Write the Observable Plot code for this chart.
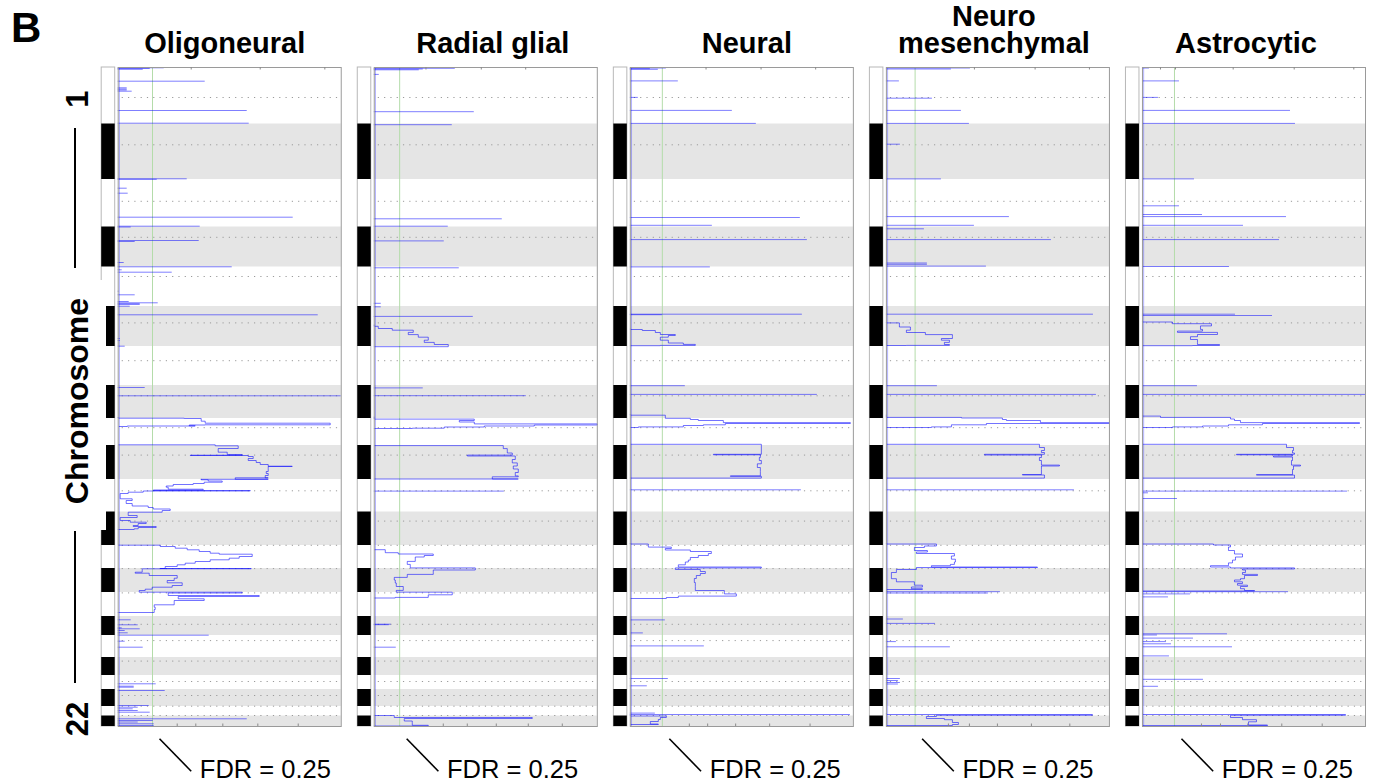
<!DOCTYPE html>
<html><head><meta charset="utf-8">
<script src="https://cdn.jsdelivr.net/npm/d3@7"></script>
<script src="https://cdn.jsdelivr.net/npm/@observablehq/plot@0.6"></script>
<style>
body{margin:0;background:#fff;font-family:"Liberation Sans",Arial,Helvetica,sans-serif;}
#wrap{position:relative;width:1373px;height:784px;overflow:hidden;background:#fff;}
#chart{position:absolute;left:0;top:0;}
.ov{position:absolute;font-weight:bold;color:#000;white-space:nowrap;line-height:1;}
.rot{transform:translate(-50%,-50%) rotate(-90deg);}
.vl{position:absolute;background:#000;width:2px;}
</style></head><body>
<div id="wrap">
  <div id="chart"></div>
  <div class="ov" style="left:11px;top:7px;font-size:42px;">B</div>
  <div class="ov rot" style="left:77px;top:99px;font-size:31px;">1</div>
  <div class="vl" style="left:74px;top:128px;height:140px;"></div>
  <div style="position:absolute;left:50px;top:280px;width:56px;height:250px;background:#fff;"></div>
  <div class="ov rot" style="left:77px;top:401px;font-size:32px;">Chromosome</div>
  <div class="vl" style="left:74px;top:531px;height:152px;"></div>
  <div class="ov rot" style="left:77px;top:719px;font-size:31px;">22</div>
</div>
<script>
// ---------------- data ----------------
const panels = ["Oligoneural", "Radial glial", "Neural", "Neuromesenchymal", "Astrocytic"];
const titles = ["Oligoneural", "Radial glial", "Neural", "Neuro\nmesenchymal", "Astrocytic"];
// chromosome boundaries along the genome axis (chr1 start ... chr22 end)
const chromBounds = [0, 56.5, 112, 159.5, 199.5, 239, 279, 318, 351, 378, 412, 444.5, 478, 501, 525, 549, 568, 590, 608, 622, 639, 648.5, 659];
const centromeres = [30, 77.3, 133.8, 169.8, 209, 255.4, 293.2, 328.3, 360.2, 387.6, 423.3, 453.6, 477.8, 501.1, 525.4, 556.8, 573.1, 593.6, 614, 628, 638.7, 648];
// G-score at FDR = 0.25 for each subtype
const fdrThreshold = [0.343, 0.254, 0.32, 0.287, 0.32];
const ticksTop = [
  [0.73, 1.42, 2.066],
  [0.517, 1.07, 1.514],
  [0.757, 1.307, 1.853],
  [0.88, 1.487, 2.03],
  [0.18, 0.33, 0.907, 1.517, 2.113]
];
const ticksBottom = [
  [0.59, 0.776, 1.046, 1.396, 1.80],
  [0.69, 0.93, 1.22, 1.54, 1.88],
  [0.59, 0.773, 1.053, 1.393, 1.797],
  [0.62, 0.83, 1.11, 1.45, 1.834],
  [0.59, 0.78, 1.053, 1.393, 1.797]
];
// isolated narrow peaks: [genome position, G-score]
const spikesOligoneural = [[0.3,0.46],[1,0.32],[1.8,0.25],[13.7,0.87],[20.3,0.09],[21.5,0.09],[22.5,0.09],[23.7,0.14],[43,1.29],[55.7,1.31],[111.3,0.69],[111.8,0.39],[120.7,0.09],[125.7,0.1],[149.7,1.75],[158.7,0.82],[159.5,0.13],[173,0.81],[174,0.17],[195,0.06],[199.3,1.14],[202.3,0.04],[204.7,0.54],[223.7,0.01],[227.3,0.17],[234,0.11],[235.3,0.4],[236.3,0.22],[236.8,0.22],[238.7,0.12],[247.3,2.0],[271,0.02],[273,0.02],[278.7,0.07],[320,0.27],[328.3,2.23],[552.3,0.13],[557.3,0.2],[560.3,0.04],[561.3,0.22],[563,0.07],[565.3,0.1],[567.7,0.91],[573.7,0.07],[579.7,0.25],[616.3,0.38],[618.7,0.16],[619.7,0.16],[623,0.47],[638,0.31],[639.7,0.2],[641.3,0.15],[643,0.2],[644.7,0.32],[651.3,1.29],[653,0.35],[654.5,0.2],[656.3,0.36],[658,0.36]];
const spikesRadialGlial = [[0.8,0.81],[1.5,0.49],[2.3,0.45],[6.9,0.05],[44.2,1.0],[57.2,0.78],[151.3,1.28],[158.7,0.74],[173.4,0.70],[200.3,0.85],[235.8,0.07],[239.3,0.07],[248.9,0.99],[320.4,0.49],[328.2,1.52],[423.6,1.30],[556.7,0.17],[557.2,0.15],[579.7,0.22]];
const spikesNeural = [[0.5,0.36],[1.2,0.2],[1.8,0.28],[13.4,0.48],[29.9,0.08],[42.9,1.02],[55.9,1.26],[150,1.70],[157.8,0.82],[172.1,1.77],[199.4,0.80],[246.7,1.72],[247.2,0.32],[318.2,0.55],[326.9,1.87],[422.3,1.71],[552.4,0.35],[565.4,0.13],[578.4,0.74],[611,0.38],[618.3,0.17],[645.6,0.25],[647,2.2]];
const spikesNeuromesenchymal = [[0.5,0.84],[1.5,0.65],[13.4,0.13],[30.7,0.46],[42.9,0.75],[55.9,0.83],[76.7,0.14],[111.4,0.55],[149.1,1.23],[157.8,0.88],[161.3,0.38],[172.1,1.65],[195.5,0.41],[196.8,0.41],[198.6,1.0],[246.7,2.07],[318.2,0.51],[326.9,2.1],[422.3,1.88],[524.2,1.14],[525.5,1.02],[551.5,0.17],[555.9,0.49],[574.1,0.1],[579.3,0.64],[611,0.14],[613,0.12],[615,0.14],[616.5,0.12]];
const spikesAstrocytic = [[0.5,0.07],[13.4,0.37],[29.9,0.16],[42.9,1.48],[55.9,1.53],[111.4,0.52],[138.3,0.37],[147,0.6],[149.1,1.44],[157.8,1.01],[172.1,1.37],[199,0.87],[246.7,0.93],[248,1.3],[318.2,0.55],[326.9,2.23],[423.6,2.05],[425.3,0.06],[431,0.35],[524.2,1.46],[526.4,0.48],[529.4,0.26],[566.3,0.85],[567.5,0.15],[570.6,0.51],[574.1,0.24],[576.3,0.29],[579.3,0.9],[588.4,0.27],[611.8,0.61],[618.8,0.16]];
// broad regions traced as continuous profiles: lists of [genome position, G-score]
const profilesOligoneural = [
  [[350,0],[350.7,0.66],[351,0.83],[353.7,0.87],[355.7,2.12],[357.3,0.87],[357.5,0.71],[358.3,0.77],[358.5,0.09],[359,0.01]],
  [[377.3,0],[377.3,0.97],[378.3,1.2],[381,1.0],[384.7,1.09],[387,1.24],[387.7,0.72],[388,1.3],[389,1.35],[391,1.3],[393,1.38],[395,1.42],[397,1.5],[398.7,1.74],[399,1.5],[401,1.5],[404,1.48],[406,1.5],[408,1.47],[410.3,1.5],[410.3,1.17],[411.7,1.5],[411.8,0.83]],
  [[411.8,0.83],[412.3,0.9],[413.5,1.04],[414.7,0.86],[416,0.75],[417,0.55],[418.5,0.48],[419.7,0.5],[421.7,0.85],[422.5,0.35],[423,1.32],[423.5,0.25],[424.7,0.1],[426,0.02],[431.3,0.14],[433,0.08],[436,0.14],[438.5,0.3],[440,0.35],[441.5,0.52],[443,0.44],[444.3,0.44],[444.7,0.1],[448,0.19],[450,0.02],[453,0.12],[454.7,0.28],[456,0.2],[458,0.15],[459,0.38],[460,0.2],[461.3,0.16],[462,0]],
  [[477.7,0],[477.7,0.42],[479,0.57],[480.7,0.69],[482.3,0.81],[484,0.92],[485.7,1.01],[486.7,1.34],[489,1.21],[490.7,1.11],[492.3,0.92],[494,0.77],[495.7,0.67],[497.3,0.59],[499,0.47],[501,0.42],[501,1.33],[501.3,0.24],[502.3,0.24],[504.7,0.17],[505.7,0.31],[508,0.59],[510.7,0.56],[513,0.49],[515.3,0.64],[518,0.54],[519.7,0.34],[521.7,0.27],[523,0.21],[524.7,1.24],[525.5,0.5],[528,1.41],[529,0.6],[531.3,0.86],[533,0.56],[534.7,0.56],[537.3,0.36],[539.7,0.37],[542,0.36],[544.7,0.36],[545,0]]
];
const profilesRadialGlial = [
  [[257.5,0],[258.8,0.04],[261,0.18],[262.7,0.39],[264.9,0.34],[267.1,0.44],[269.7,0.54],[272.7,0.5],[274.9,0.6],[277,0.74],[279.2,0.65],[279.2,0]],
  [[349.5,0],[351.6,1.0],[353,0.85],[354.5,1.0],[356.4,2.23],[357.5,1.6],[358.5,1.1],[359.5,0.7],[360.7,0.38],[361,0]],
  [[378.1,0],[378.1,1.29],[381.1,1.33],[385.5,1.38],[387.6,0.93],[388.5,1.41],[392,1.38],[395.4,1.43],[398.5,1.39],[401.5,1.44],[405,1.41],[408.4,1.44],[409.3,1.18],[411.5,1.44],[411.5,0]],
  [[482.2,0],[482.2,0.11],[485.2,0.24],[486.5,0.59],[488,0.5],[489.5,0.41],[493.9,0.33],[496.9,0.36],[500.4,1.01],[502.5,0.59],[504.7,0.59],[506.9,0.33],[509.9,0.2],[512.5,0.21],[515.5,0.22],[519,0.29],[522.9,0.22],[524.7,0.78],[527.3,0.54],[529.9,0.21],[530.5,0]],
  [[647.8,0],[648,0.2],[650,1.58],[651,0.3],[652,0.3],[653.5,0.38],[655.2,0.38],[657.8,0.54],[658.5,0]]
];
const profilesNeural = [
  [[261.5,0],[262,0.12],[263,0.25],[265,0.3],[267,0.45],[268,0.38],[269.7,0.3],[272.7,0.38],[275.5,0.53],[276.9,0.65],[277.9,0.3],[278.2,0]],
  [[347,0],[347.7,0.35],[350.8,0.6],[352,0.68],[353,0.93],[355.1,2.2],[356,0.95],[357.3,0.73],[358,0.53],[359.4,0.08],[360,0]],
  [[376.8,0],[376.8,1.31],[386.8,1.31],[386.8,0.83],[387.3,1.3],[390,1.29],[393,1.31],[396.3,1.27],[400,1.3],[404,1.3],[408.4,1.0],[408.8,1.31],[410.6,1.31],[410.6,0]],
  [[476,0],[476.5,0.18],[479.6,0.41],[481,0.35],[482.5,0.6],[484,0.81],[486,0.78],[488,0.68],[490,0.6],[492.6,0.58],[494.5,0.55],[497.3,0.48],[499.5,1.31],[500.4,0.45],[502,0.7],[504,0.75],[506,0.7],[508,0.66],[511,0.64],[515,0.65],[519,0.65],[523,0.94],[526.4,1.06],[528.6,0.48],[530,0.36],[531,0]],
  [[647.5,0],[648.5,0.36],[650,0.3],[652,0.28],[654,0.2],[656.5,0.28],[657,0]]
];
const profilesNeuromesenchymal = [
  [[255,0],[255.4,0.13],[259.5,0.24],[262.7,0.2],[265,0.39],[267.1,0.66],[269.2,0.66],[271,0.55],[272.7,0.63],[274.9,0.58],[277,0.63],[277.9,0.2],[278,0]],
  [[347.5,0],[349.9,0.75],[350.5,1.16],[352,1.2],[353,1.54],[355.1,2.23],[356,1.0],[357.3,0.65],[359.4,0.45],[360,0]],
  [[376.8,0],[376.8,1.53],[380,1.58],[383,1.55],[385,1.58],[386.8,0.98],[387.5,1.55],[390,1.53],[393,1.55],[397.6,1.73],[398.5,1.55],[402,1.55],[407,1.36],[407.5,1.58],[410.6,1.56],[410.6,0]],
  [[476,0],[476.5,0.5],[478.5,0.38],[480,0.28],[483,0.41],[484.5,0.3],[486,0.68],[488.5,0.65],[491.7,0.69],[494.5,0.68],[496.9,0.64],[498.2,0.45],[499.5,1.51],[500,0.3],[502,0.1],[505,0.05],[511.2,0.1],[514.3,0.28],[517.7,0.36],[519.5,0.25],[521.2,0.36],[522,0]],
  [[646,0],[647,2.06],[647.8,0.5],[649,0.4],[651,0.58],[652.2,0.66],[655,0.72],[657,0.66],[658,0]]
];
const profilesAstrocytic = [
  [[254,0],[254.5,0.3],[256.2,0.69],[258.4,0.58],[261.9,0.6],[263.6,0.35],[264.9,0.75],[267,0.55],[269.2,0.48],[272,0.55],[275,0.55],[277,0.77],[278,0.5],[278.2,0]],
  [[348,0],[348.6,0.18],[349.9,0.88],[351.5,0.92],[353,0.98],[355.1,2.17],[356,1.2],[357.3,0.86],[358.5,0.6],[359.4,0.3],[360,0]],
  [[376.8,0],[376.8,1.44],[380,1.51],[383,1.5],[385.5,1.52],[386.8,0.94],[387.3,1.5],[388.5,1.31],[389.5,1.5],[393,1.49],[397.6,1.58],[398.5,1.51],[402,1.5],[407.1,1.14],[407.6,1.52],[410.6,1.52],[410.6,0]],
  [[476.3,0],[476.5,0.71],[477.5,0.88],[479.5,0.86],[483,0.92],[486.5,1.0],[489.5,0.93],[492.6,0.9],[495.4,0.86],[498.2,0.68],[499.5,0.88],[500.4,1.52],[501.5,1.0],[502.5,1.03],[505,1.0],[506.9,1.15],[508,1.02],[511.2,0.98],[512.5,0.92],[514.3,1.0],[516,0.95],[517.7,1.05],[519,0.98],[521.2,1.02],[523,1.12],[523.5,0]],
  [[646,0],[647,2.03],[647.8,0.88],[650,1.0],[652.2,1.14],[654.3,1.06],[656.5,1.06],[657.5,1.25],[658,0]]
];
const fdrLabel = "FDR = 0.25";

// ---------------- build tables ----------------
const spikeSets = [spikesOligoneural, spikesRadialGlial, spikesNeural, spikesNeuromesenchymal, spikesAstrocytic];
const profileSets = [profilesOligoneural, profilesRadialGlial, profilesNeural, profilesNeuromesenchymal, profilesAstrocytic];
const spikeRows = [], profileRows = [], thrRows = [], topRows = [], botRows = [], titleRows = [];
// layout (pixel) offsets of the titles from the panel centre
const titleShift = [-5, 7, 5, -4, -8];
const G_MAX = 2.23, PX = 100; // 100 px per G-score unit
panels.forEach((p, i) => {
  spikeSets[i].forEach(([pos, g]) => spikeRows.push({panel: p, pos, g}));
  profileSets[i].forEach((seg, j) => seg.forEach(([pos, g]) => profileRows.push({panel: p, seg: i + "-" + j, pos, g})));
  thrRows.push({panel: p, g: fdrThreshold[i]});
  ticksTop[i].forEach(g => topRows.push({panel: p, g}));
  ticksBottom[i].forEach(g => botRows.push({panel: p, g}));
  titleRows.push({panel: p, text: titles[i], x: G_MAX / 2 + titleShift[i] / PX});
});
const chromRows = d3.range(22).map(i => ({chr: i + 1, y1: chromBounds[i], y2: chromBounds[i + 1]}));
const evenChroms = chromRows.filter(d => d.chr % 2 === 0);
const Y_MAX = chromBounds[chromBounds.length - 1];
const ideoL = -16.5 / PX, ideoR = -3 / PX;
const BLUE = "#0000ff";

const chart = Plot.plot({
  width: 1373,
  height: 784,
  marginLeft: 117.7,
  marginRight: 8,
  marginTop: 67,
  marginBottom: 58,
  fx: {domain: panels, paddingInner: 0.129, paddingOuter: 0, round: false, axis: null, label: null},
  x: {domain: [0, G_MAX], axis: null},
  y: {domain: [0, Y_MAX], reverse: true, axis: null},
  style: {fontFamily: '"Liberation Sans", Arial, Helvetica, sans-serif', background: "white", overflow: "visible"},
  marks: [
    // gray background for even chromosomes
    Plot.rect(evenChroms, {x1: 0, x2: G_MAX, y1: "y1", y2: "y2", fill: "#e5e5e5"}),
    // ideogram
    Plot.rect([{y1: 0, y2: Y_MAX}], {x1: ideoL, x2: ideoR, y1: "y1", y2: "y2", fill: "white", stroke: "#b8b8b8", strokeWidth: 1}),
    Plot.rect(evenChroms, {x1: ideoL, x2: ideoR, y1: "y1", y2: "y2", fill: "black"}),
    // centromere dotted lines
    Plot.ruleY(centromeres, {x1: 0.04, x2: G_MAX - 0.02, stroke: "#9a9a9a", strokeWidth: 1, strokeDasharray: "1.2,5.1"}),
    // FDR threshold line
    Plot.ruleX(thrRows, {fx: "panel", x: "g", y1: 0, y2: Y_MAX, stroke: "#b4dcaa", strokeWidth: 1}),
    // baseline
    Plot.ruleX([0.012], {y1: 0, y2: Y_MAX, stroke: BLUE, strokeOpacity: 0.3}),
    // peaks
    Plot.ruleY(spikeRows, {fx: "panel", y: "pos", x1: 0, x2: "g", stroke: BLUE, strokeOpacity: 0.5, strokeWidth: 1}),
    Plot.line(profileRows, {fx: "panel", x: "g", y: "pos", z: "seg", stroke: BLUE, strokeOpacity: 0.55, strokeWidth: 1, curve: "step-before"}),
    // frame and ticks
    Plot.frame({stroke: "#9a9a9a", strokeWidth: 1}),
    Plot.ruleX(topRows, {fx: "panel", x: "g", y1: 0, y2: 2.5, stroke: "#8a8a8a"}),
    Plot.ruleX(botRows, {fx: "panel", x: "g", y1: Y_MAX - 2.5, y2: Y_MAX, stroke: "#8a8a8a"}),
    // titles
    Plot.text(titleRows, {fx: "panel", x: "x", y: -15, text: "text", fontSize: 29, fontWeight: "bold", lineAnchor: "bottom", lineHeight: 0.9, fill: "black"}),
    // FDR annotation
    Plot.link(thrRows, {fx: "panel", x1: d => d.g + 0.07, x2: d => d.g + 0.387, y1: Y_MAX + 12.3, y2: Y_MAX + 44.7, stroke: "black", strokeWidth: 1.6}),
    Plot.text(thrRows, {fx: "panel", x: d => d.g + 0.473, y: Y_MAX + 51.5, text: () => fdrLabel, textAnchor: "start", lineAnchor: "bottom", fontSize: 25.5, fill: "black"})
  ]
});
document.getElementById("chart").appendChild(chart);
</script>
</body></html>
